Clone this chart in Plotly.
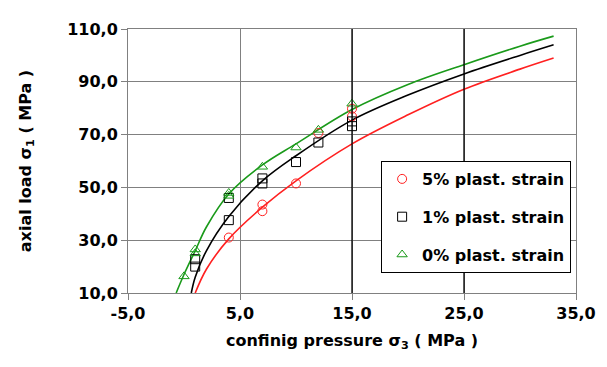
import plotly.graph_objects as go

# ---- data ----
x_ticks = [-5, 5, 15, 25, 35]
x_ticktext = ["-5,0", "5,0", "15,0", "25,0", "35,0"]
y_ticks = [10, 30, 50, 70, 90, 110]
y_ticktext = ["10,0", "30,0", "50,0", "70,0", "90,0", "110,0"]
dark_grid_x = [15, 25]

# measured points
p5_x = [4, 7, 7, 10, 12, 15, 15]
p5_y = [31.0, 41.0, 43.5, 51.5, 70.6, 76.9, 79.8]
p1_x = [1, 1, 4, 4, 7, 7, 10, 12, 15, 15]
p1_y = [20.0, 22.8, 37.6, 46.0, 51.5, 53.4, 59.6, 67.0, 73.2, 75.0]
p0_x = [0, 1, 1, 4, 4, 7, 10, 12, 15]
p0_y = [16.3, 25.0, 26.5, 46.8, 47.9, 57.8, 65.1, 71.8, 81.7]

# fitted curves
c5_x = [1.0, 2, 4, 7, 10, 15, 20, 25, 30, 33]
c5_y = [10, 19, 30.5, 42.5, 52.5, 66.5, 77.5, 87.2, 94.8, 99.0]
c1_x = [0.65, 1, 2, 4, 7, 10, 15, 20, 25, 30, 33]
c1_y = [10, 16, 26, 39, 52.5, 62, 75.5, 85, 93, 100, 104]
c0_x = [-0.7, 0, 1, 2, 4, 7, 10, 15, 20, 25, 30, 33]
c0_y = [10, 17, 26, 35, 47.5, 58.5, 66.5, 79.5, 89, 96.5, 103.5, 107.3]

names = ["5% plast. strain", "1% plast. strain", "0% plast. strain"]
colors = ["#ff2020", "#000000", "#1a9a1a"]
symbols = ["circle-open", "square-open", "triangle-up-open"]

FONT = "DejaVu Sans"

fig = go.Figure()
curves = [(c5_x, c5_y), (c1_x, c1_y), (c0_x, c0_y)]
points = [(p5_x, p5_y), (p1_x, p1_y), (p0_x, p0_y)]
for (cx, cy), col in zip(curves, colors):
    fig.add_trace(go.Scatter(x=cx, y=cy, mode="lines", line=dict(color=col, width=1.6, shape="spline", smoothing=1.0),
                             showlegend=False, hoverinfo="skip", cliponaxis=True))
for i, ((px, py), col, sym, nm) in enumerate(zip(points, colors, symbols, names)):
    fig.add_trace(go.Scatter(x=px, y=py, mode="markers", name=nm, legendgroup=f"g{i}",
                             marker=dict(symbol=sym, color=col, size=9, line=dict(color=col, width=1))))

for xv in dark_grid_x:
    fig.add_vline(x=xv, line=dict(color="black", width=1.3), layer="above")

fig.update_layout(
    width=607, height=367,
    margin=dict(l=120, r=39, t=13, b=82),
    paper_bgcolor="white", plot_bgcolor="white",
    font=dict(family=FONT, size=16, color="black", weight="bold"),
    legend=dict(x=0.565, y=0.5, xanchor="left", yanchor="top",
                bgcolor="white", bordercolor="black", borderwidth=1,
                font=dict(family=FONT, size=16, weight="bold"),
                tracegroupgap=14, traceorder="grouped", itemwidth=30),
    xaxis=dict(range=[-5, 35], tickvals=x_ticks, ticktext=x_ticktext,
               showgrid=True, gridcolor="#808080", gridwidth=1,
               showline=True, linecolor="#808080", linewidth=1, mirror=True,
               ticks="outside", ticklen=6, tickcolor="#808080",
               zeroline=False,
               title=dict(text="confinig pressure σ<sub>3</sub> ( MPa )", standoff=12,
                          font=dict(family=FONT, size=16, weight="bold"))),
    yaxis=dict(range=[10, 110], tickvals=y_ticks, ticktext=y_ticktext,
               showgrid=True, gridcolor="#808080", gridwidth=1,
               showline=True, linecolor="#808080", linewidth=1, mirror=True,
               ticks="outside", ticklen=6, tickcolor="#808080",
               zeroline=False,
               title=dict(text="axial load σ<sub>1</sub> ( MPa )", standoff=31,
                          font=dict(family=FONT, size=16, weight="bold"))),
)

fig.write_html("out.html")
